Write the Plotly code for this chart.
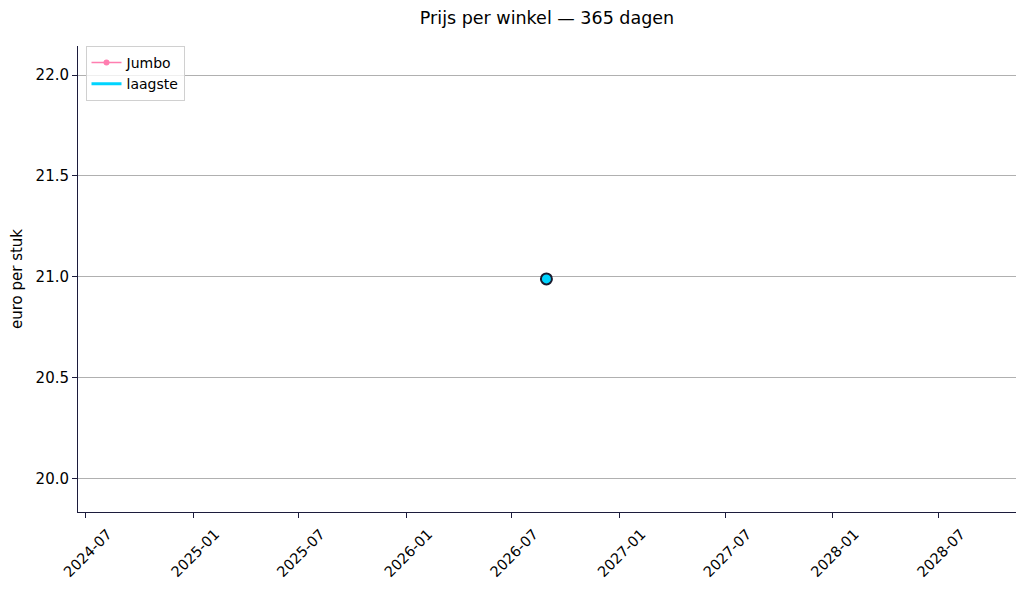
import plotly.graph_objects as go

# data
dates = ["2026-08-29"]
jumbo_prices = [20.99]
lowest_prices = [20.99]

x_range = ["2024-06-18", "2028-11-10"]
y_range = [19.835, 22.144]
y_ticks = [20.0, 20.5, 21.0, 21.5, 22.0]

FONT = "DejaVu Sans"
SPINE = "#1c1c3c"

fig = go.Figure()

fig.add_trace(go.Scatter(
    x=dates, y=jumbo_prices, name="Jumbo", mode="lines+markers",
    line=dict(color="#ff7eb0", width=1.5),
    marker=dict(color="#ff7eb0", size=6),
))
fig.add_trace(go.Scatter(
    x=dates, y=lowest_prices, name="laagste", mode="lines",
    line=dict(color="#00d4ff", width=3),
))
# highlighted lowest price marker
fig.add_trace(go.Scatter(
    x=dates, y=lowest_prices, mode="markers", showlegend=False,
    marker=dict(color="#00d4ff", size=11, line=dict(color="#1a1a2e", width=2)),
))

fig.update_xaxes(
    type="date", range=x_range, dtick="M6", tick0="2024-07-01", tickformat="%Y-%m",
    tickangle=-45, showgrid=False, zeroline=False, automargin=False,
    showline=True, linecolor=SPINE, linewidth=1,
    ticks="outside", ticklen=5, tickcolor=SPINE,
    ticklabelshift=22, ticklabelstandoff=2,
    tickfont=dict(family=FONT, size=14.5, color="black"),
)
fig.update_yaxes(
    range=y_range, tickvals=y_ticks, ticktext=["{0:.1f}".format(v) for v in y_ticks],
    showgrid=True, gridcolor="#b0b0b0", gridwidth=1, zeroline=False, automargin=False,
    showline=True, linecolor=SPINE, linewidth=1,
    ticks="outside", ticklen=5, tickcolor=SPINE,
    tickfont=dict(family=FONT, size=15, color="black"),
    title=dict(text="euro per stuk", font=dict(family=FONT, size=15, color="black"), standoff=10),
)

# the page body adds an 8px margin, so the figure is sized to fit inside it
fig.update_layout(
    width=1010, height=574,
    margin=dict(l=70, r=2, t=38, b=70),
    paper_bgcolor="white", plot_bgcolor="white",
    title=dict(text="Prijs per winkel — 365 dagen", x=(70 + 1008) / 2 / 1010, xanchor="center",
               yref="container", y=1 - 10 / 574, yanchor="middle", pad=dict(t=0, b=0),
               font=dict(family=FONT, size=17.5, color="black")),
    legend=dict(x=0.008, y=1.0, xanchor="left", yanchor="top",
                bgcolor="rgba(255,255,255,0.8)", bordercolor="#d0d0d0", borderwidth=1,
                font=dict(family=FONT, size=14, color="black"),
                tracegroupgap=0, itemwidth=30),
    showlegend=True,
)

fig.write_html("out.html")
